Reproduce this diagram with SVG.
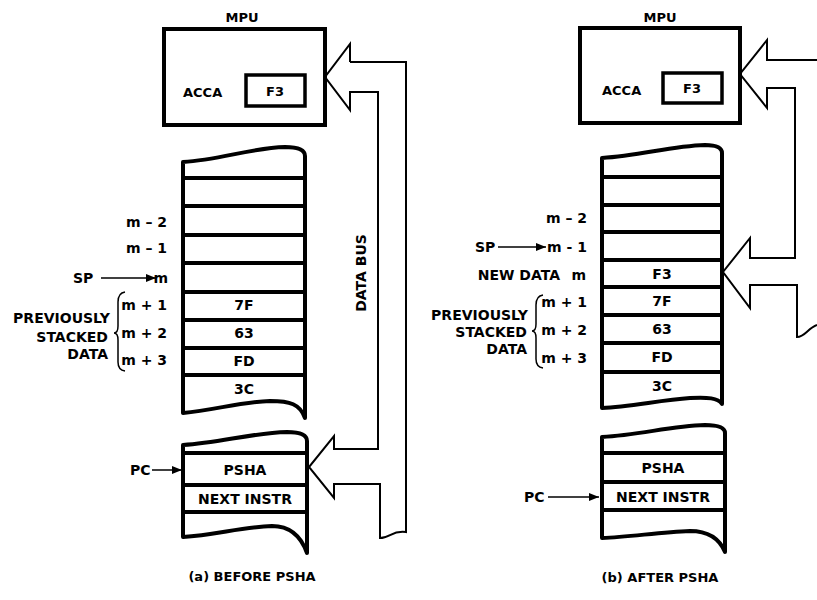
<svg xmlns="http://www.w3.org/2000/svg" width="817" height="600" viewBox="0 0 817 600">
<style>
text{font-family:"DejaVu Sans","Liberation Sans",sans-serif;font-weight:bold;font-size:14px;fill:#000}
.c{text-anchor:middle}
.r{text-anchor:end}
.box{fill:#fff;stroke:#000;stroke-width:4}
.reg{fill:#fff;stroke:#000;stroke-width:3.5}
.stk{fill:#fff;stroke:#000;stroke-width:4;stroke-linejoin:round}
.row{stroke:#000;stroke-width:4}
.bus{fill:none;stroke:#000;stroke-width:2;stroke-linejoin:miter}
.ptr{stroke:#000;stroke-width:1.5;fill:none}
</style>
<defs>
<marker id="ah" viewBox="0 0 10 8" refX="10" refY="4" markerWidth="10" markerHeight="8" markerUnits="userSpaceOnUse" orient="auto">
<path d="M0,0 L10,4 L0,8 Z" fill="#000"/>
</marker>
</defs>

<!-- ===== Panel (a) ===== -->
<g id="mpu-a">
<text class="c" x="242" y="22" style="font-size:13px">MPU</text>
<rect class="box" x="164" y="29" width="161" height="96"/>
<text x="183" y="97" style="font-size:13px">ACCA</text>
<rect class="reg" x="246" y="75" width="59" height="31"/>
<text class="c" x="275" y="96" style="font-size:13px">F3</text>
</g>

<g id="stack-a">
<path class="stk" d="M183,162 C220,160 250,148 285,147 C298,147 305,150 305,156 L305,418 C300,404 290,401 270,401 C240,402 215,410 183,413 Z"/>
<line class="row" x1="183" y1="178" x2="305" y2="178"/>
<line class="row" x1="183" y1="206" x2="305" y2="206"/>
<line class="row" x1="183" y1="235" x2="305" y2="235"/>
<line class="row" x1="183" y1="263" x2="305" y2="263"/>
<line class="row" x1="183" y1="292" x2="305" y2="292"/>
<line class="row" x1="183" y1="320" x2="305" y2="320"/>
<line class="row" x1="183" y1="348" x2="305" y2="348"/>
<line class="row" x1="183" y1="375" x2="305" y2="375"/>
<text class="c" x="244" y="310">7F</text>
<text class="c" x="244" y="338">63</text>
<text class="c" x="244" y="366">FD</text>
<text class="c" x="244" y="394">3C</text>
</g>

<g id="labels-a">
<text class="r" x="167" y="227">m – 2</text>
<text class="r" x="167" y="253">m – 1</text>
<text x="73" y="283">SP</text>
<line class="ptr" x1="101" y1="278" x2="156" y2="278" marker-end="url(#ah)"/>
<text class="r" x="168" y="283">m</text>
<text class="r" x="167" y="310">m + 1</text>
<text class="r" x="167" y="338">m + 2</text>
<text class="r" x="167" y="365">m + 3</text>
<text class="r" x="110" y="323">PREVIOUSLY</text>
<text class="r" x="108" y="342">STACKED</text>
<text class="r" x="108" y="359">DATA</text>
<path class="ptr" d="M125,292 Q118,293 118,302 L118,326 Q118,333 114,333 Q118,333 118,340 L118,362 Q118,370 125,371"/>
</g>

<g id="prog-a">
<path class="stk" d="M183,445 C220,443 250,433 287,432 C300,432 307,435 307,441 L307,553 C302,539 292,526 272,526 C242,527 215,535 183,537 Z"/>
<line class="row" x1="183" y1="453" x2="307" y2="453"/>
<line class="row" x1="183" y1="485" x2="307" y2="485"/>
<line class="row" x1="183" y1="512" x2="307" y2="512"/>
<text class="c" x="245" y="475">PSHA</text>
<text class="c" x="245" y="504">NEXT INSTR</text>
<text x="130" y="475">PC</text>
<line class="ptr" x1="152" y1="470" x2="182" y2="470" marker-end="url(#ah)"/>
</g>

<g id="connectors">
<!-- data bus (a) -->
<path class="bus" d="M350,62 L350,44 L325,77 L350,110 L350,92 L378,92 L378,449 L334,449 L334,436 L309,467 L334,498 L334,484 L380,484 L380,538 C390,538 392,530 406,532 L406,62 L350,62"/>
<!-- data bus (b) -->
<path class="bus" d="M817,60 L767,60 L767,40 L740,74 L767,108 L767,88 L795,88 L795,258 L750,258 L750,238 L723,272 L750,308 L750,285 L797,285 L797,337 C805,337 808,328 817,325"/>
</g>
<text class="c" transform="translate(366,273) rotate(-90)">DATA BUS</text>

<text class="c" x="252" y="581" style="font-size:13px">(a) BEFORE PSHA</text>

<!-- ===== Panel (b) ===== -->
<g id="mpu-b">
<text class="c" x="660" y="22" style="font-size:13px">MPU</text>
<rect class="box" x="580" y="28" width="160" height="95"/>
<text x="602" y="95" style="font-size:13px">ACCA</text>
<rect class="reg" x="663" y="73" width="59" height="30"/>
<text class="c" x="692" y="93" style="font-size:13px">F3</text>
</g>

<g id="stack-b">
<path class="stk" d="M602,158 C640,156 670,146 705,145 C716,145 722,147 722,153 L722,404 C718,398 708,397 690,398 C660,400 630,407 602,408 Z"/>
<line class="row" x1="602" y1="177" x2="722" y2="177"/>
<line class="row" x1="602" y1="205" x2="722" y2="205"/>
<line class="row" x1="602" y1="232" x2="722" y2="232"/>
<line class="row" x1="602" y1="260" x2="722" y2="260"/>
<line class="row" x1="602" y1="287" x2="722" y2="287"/>
<line class="row" x1="602" y1="315" x2="722" y2="315"/>
<line class="row" x1="602" y1="343" x2="722" y2="343"/>
<line class="row" x1="602" y1="372" x2="722" y2="372"/>
<text class="c" x="662" y="279">F3</text>
<text class="c" x="662" y="306">7F</text>
<text class="c" x="662" y="334">63</text>
<text class="c" x="662" y="362">FD</text>
<text class="c" x="662" y="391">3C</text>
</g>

<g id="labels-b">
<text class="r" x="587" y="223">m – 2</text>
<text x="475" y="252">SP</text>
<line class="ptr" x1="498" y1="247" x2="546" y2="247" marker-end="url(#ah)"/>
<text class="r" x="587" y="252">m - 1</text>
<text class="r" x="560" y="280">NEW DATA</text>
<text class="r" x="586" y="280">m</text>
<text class="r" x="587" y="307">m + 1</text>
<text class="r" x="587" y="335">m + 2</text>
<text class="r" x="587" y="363">m + 3</text>
<text class="r" x="528" y="320">PREVIOUSLY</text>
<text class="r" x="527" y="337">STACKED</text>
<text class="r" x="527" y="354">DATA</text>
<path class="ptr" d="M543,295 Q536,296 536,305 L536,324 Q536,331 532,331 Q536,331 536,338 L536,359 Q536,367 543,368"/>
</g>

<g id="prog-b">
<path class="stk" d="M602,437 C640,435 670,426 705,425 C718,425 725,427 725,433 L725,552 C720,540 710,531 690,531 C660,532 630,537 602,538 Z"/>
<line class="row" x1="602" y1="453" x2="725" y2="453"/>
<line class="row" x1="602" y1="482" x2="725" y2="482"/>
<line class="row" x1="602" y1="510" x2="725" y2="510"/>
<text class="c" x="663" y="473">PSHA</text>
<text class="c" x="663" y="502">NEXT INSTR</text>
<text x="524" y="502">PC</text>
<line class="ptr" x1="548" y1="497" x2="599" y2="497" marker-end="url(#ah)"/>
</g>

<text class="c" x="660" y="582" style="font-size:13px">(b) AFTER PSHA</text>
</svg>
